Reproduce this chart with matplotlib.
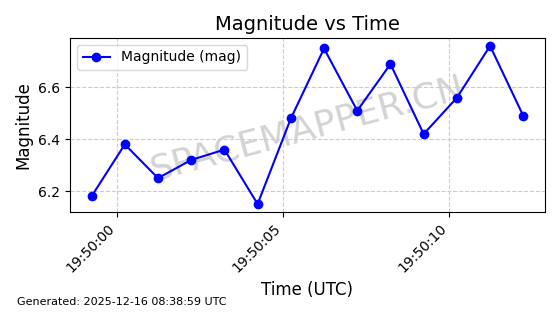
import datetime as dt
import matplotlib
matplotlib.use("Agg")
import matplotlib.pyplot as plt
import matplotlib.dates as mdates

# time offsets (seconds after 19:50:00) and magnitudes
seconds = [-0.77, 0.23, 1.23, 2.23, 3.23, 4.23, 5.23, 6.23, 7.23, 8.23, 9.23, 10.23, 11.23, 12.23]
magnitude = [6.18, 6.38, 6.25, 6.32, 6.36, 6.15, 6.48, 6.75, 6.51, 6.69, 6.42, 6.56, 6.76, 6.49]

t0 = dt.datetime(2025, 12, 16, 19, 50, 0)
times = [t0 + dt.timedelta(seconds=s) for s in seconds]

fig = plt.figure(figsize=(5.6, 3.14), dpi=100)
ax = fig.add_axes([0.125, 0.325, 0.848, 0.554])

ax.plot(times, magnitude, "-o", color="blue", markersize=6, linewidth=1.5,
        label="Magnitude (mag)")
ax.set_title("Magnitude vs Time", fontsize=14)
ax.set_xlabel("Time (UTC)", fontsize=12)
ax.set_ylabel("Magnitude", fontsize=12)
ax.grid(True, linestyle="--", color="#cccccc", linewidth=0.8)
ax.legend(loc="upper left")

ax.xaxis.set_major_locator(mdates.SecondLocator(bysecond=range(0, 60, 5)))
ax.xaxis.set_major_formatter(mdates.DateFormatter("%H:%M:%S"))
plt.setp(ax.get_xticklabels(), rotation=45, ha="right")

# watermark behind the line
ax.text(0.5, 0.48, "SPACEMAPPER.CN", transform=ax.transAxes, fontsize=26,
        color="gray", alpha=0.35, rotation=15, ha="center", va="center", zorder=1)
fig.text(0.03, 0.03, "Generated: 2025-12-16 08:38:59 UTC", fontsize=8)

fig.savefig("out.png", dpi=100)
